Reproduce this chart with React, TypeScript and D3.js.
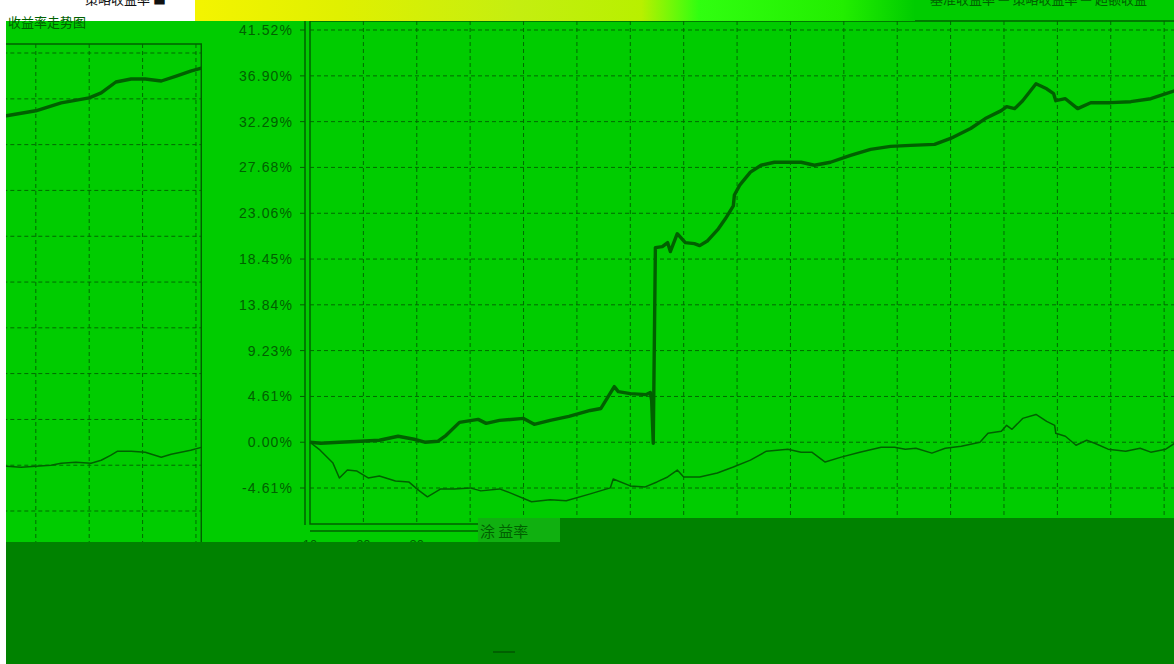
import React from 'react';
import * as d3 from 'd3';

// Strategy cumulative return (%) by trading day
const strategyDays = [0, 4, 11, 19, 26, 33, 39, 43, 48, 51, 56, 63, 66, 71, 80, 84, 90, 97, 105, 109, 114, 115.5, 120, 126, 127.5, 128, 128.6, 129.4, 132, 134, 135, 137.6, 140.6, 144, 146, 149, 153, 155.6, 158.6, 159, 161, 165, 169, 174, 184, 189, 195, 202.5, 210, 217.5, 225, 234, 240, 247.5, 253, 259, 261, 264, 267, 272, 276, 278.6, 279.4, 283, 287.6, 292.5, 300, 307.5, 315, 324, 329, 340, 349.5, 360, 364.5, 370, 375.7, 381, 387, 392.6, 398, 402];
const strategyReturns = [0, -0.1, 0, 0.1, 0.2, 0.6, 0.3, 0, 0.1, 0.7, 2.0, 2.3, 1.9, 2.2, 2.4, 1.8, 2.2, 2.6, 3.2, 3.4, 5.6, 5.1, 4.9, 4.8, 5.0, 4.2, -0.1, 19.6, 19.7, 20.1, 19.2, 21.0, 20.1, 20.0, 19.8, 20.3, 21.5, 22.5, 23.8, 24.9, 25.9, 27.2, 27.9, 28.2, 28.2, 27.9, 28.2, 28.9, 29.5, 29.8, 29.9, 30.0, 30.6, 31.6, 32.6, 33.4, 33.8, 33.6, 34.4, 36.1, 35.6, 35.1, 34.4, 34.6, 33.6, 34.2, 34.2, 34.3, 34.6, 35.4, 35.2, 35.7, 36.5, 37.0, 37.5, 38.6, 38.9, 38.9, 38.7, 39.2, 39.7, 40.0];

// Benchmark cumulative return (%) by trading day
const benchmarkDays = [0, 3.8, 8.6, 11, 14, 17.6, 21.8, 26, 32, 37, 40.5, 44, 49, 54, 60, 64, 71, 75, 83, 90, 96, 105, 112.5, 113.6, 120, 125.6, 130, 134, 137.6, 140, 146, 152.6, 158.6, 165, 171, 179, 184, 188, 193, 199, 206, 214, 219, 223, 227, 233, 238, 244, 251, 254, 259, 261, 263, 267, 272, 276, 279, 279.4, 283, 287, 291, 294, 299, 305.6, 311, 315, 320.6, 324, 329, 334.5, 340, 345.7, 349.5, 355, 360.7, 364.5, 368, 370.5, 375.7, 381, 387, 390.7, 398, 402];
const benchmarkReturns = [0, -0.8, -2.1, -3.6, -2.8, -2.9, -3.6, -3.4, -3.9, -4.0, -4.8, -5.5, -4.7, -4.7, -4.6, -4.9, -4.7, -5.1, -6.0, -5.8, -5.9, -5.2, -4.6, -3.7, -4.4, -4.5, -4.0, -3.5, -2.8, -3.5, -3.5, -3.1, -2.5, -1.8, -0.9, -0.7, -1.0, -1.0, -2.0, -1.5, -1.0, -0.5, -0.5, -0.7, -0.6, -1.1, -0.6, -0.4, 0.0, 0.9, 1.1, 1.7, 1.3, 2.4, 2.8, 2.1, 1.7, 0.9, 0.6, -0.3, 0.2, -0.1, -0.7, -0.9, -0.6, -1.0, -0.7, -0.1, -0.1, -0.2, -0.1, 0, 0.2, 0.3, 0.2, 0.5, 1.0, 1.4, 1.4, 1.3, 0.8, 1.1, 1.5, 1.8];

const yTickValues = [41.52, 36.90, 32.29, 27.68, 23.06, 18.45, 13.84, 9.23, 4.61, 0.00, -4.61];
const yTickLabels = ['41.52%', '36.90%', '32.29%', '27.68%', '23.06%', '18.45%', '13.84%', '9.23%', '4.61%', '0.00%', '-4.61%'];
const xTickDays = [0, 20, 40];
const xTickLabels = ['10', '20', '30'];

const BG = '#00cc00';
const DARK = '#006000';
const GRID = '#006a00';
const BLOCK = '#008200';

const PL = 310, PR = 1383, PT = 21, PB = 524;

export default function App() {
  const x = d3.scaleLinear().domain([0, 402]).range([PL, PR]);
  const y = d3.scaleLinear().domain([-4.61, 41.52]).range([488, 30]);

  const line = d3.line<[number, number]>().x(d => x(d[0])).y(d => y(d[1]));
  const sPts: [number, number][] = strategyDays.map((d, i) => [d, strategyReturns[i]]);
  const bPts: [number, number][] = benchmarkDays.map((d, i) => [d, benchmarkReturns[i]]);

  const vGrid = d3.range(20, 402, 20);

  const plot = (
    <g>
      {yTickValues.map((v, i) => (
        <line key={'h' + i} x1={PL} x2={PR} y1={y(v)} y2={y(v)} stroke={GRID} strokeWidth={1} strokeDasharray="4,3" />
      ))}
      {vGrid.map((d, i) => (
        <line key={'v' + i} x1={x(d)} x2={x(d)} y1={PT} y2={PB} stroke={GRID} strokeWidth={1} strokeDasharray="4,3" />
      ))}
      <rect x={PL} y={PT} width={PR - PL} height={PB - PT} fill="none" stroke={DARK} strokeWidth={1.5} />
      <path d={line(bPts) || ''} fill="none" stroke={DARK} strokeWidth={1.5} strokeLinejoin="round" />
      <path d={line(sPts) || ''} fill="none" stroke={DARK} strokeWidth={3.4} strokeLinejoin="round" />
    </g>
  );

  return (
    <svg width={1174} height={664} style={{ position: 'absolute', left: 0, top: 0, fontFamily: 'Liberation Sans, Arial, sans-serif' }}>
      <defs>
        <clipPath id="mainClip"><rect x={PL - 1} y={PT - 1} width={1174 - PL + 1} height={PB - PT + 3} /></clipPath>
        <clipPath id="leftClip"><rect x={6} y={PT + 22} width={196} height={520} /></clipPath>
        <linearGradient id="glitch" x1="0" x2="1" y1="0" y2="0">
          <stop offset="0" stopColor="#f4f400" />
          <stop offset="0.2" stopColor="#e0f000" />
          <stop offset="0.45" stopColor="#c4ee10" />
          <stop offset="0.62" stopColor="#b8f000" />
          <stop offset="0.7" stopColor="#30ff10" />
          <stop offset="0.9" stopColor="#22ee00" />
          <stop offset="1" stopColor="#00cc00" />
        </linearGradient>
      </defs>
      <rect x={0} y={0} width={1174} height={664} fill="#ffffff" />
      <rect x={6} y={21} width={1168} height={643} fill={BG} />
      <rect x={915} y={0} width={259} height={22} fill={BG} />

      {/* continuation panel on the left */}
      <g clipPath="url(#leftClip)">
        <g transform="translate(-1181.7,23)">{plot}</g>
      </g>
      <text x={8} y={27} fill={DARK} fontSize={13} fontFamily="Noto Sans CJK SC">收益率走势图</text>

      {/* main panel */}
      <g clipPath="url(#mainClip)">{plot}</g>

      {/* y axis */}
      <line x1={305} x2={305} y1={PT} y2={525} stroke={DARK} strokeWidth={1.5} />
      {yTickValues.map((v, i) => (
        <g key={'t' + i}>
          <line x1={300} x2={305} y1={y(v)} y2={y(v)} stroke={DARK} strokeWidth={1} />
          <text x={293} y={y(v)} dy="0.36em" textAnchor="end" fontSize={14} fill={DARK} letterSpacing={1.1}>{yTickLabels[i]}</text>
        </g>
      ))}

      {/* x axis */}
      <line x1={PL} x2={PR} y1={531} y2={531} stroke={DARK} strokeWidth={1.5} />
      {xTickDays.map((d, i) => (
        <text key={'x' + i} x={x(d)} y={549} textAnchor="middle" fontSize={13} fill={DARK}>{xTickLabels[i]}</text>
      ))}

      {/* top strip */}
      <rect x={195} y={0} width={720} height={21} fill="url(#glitch)" />
      <text x={85} y={4} fontSize={13} fill="#111" fontFamily="Noto Sans CJK SC">策略收益率 ■</text>
      <text x={930} y={4} fontSize={13} fill={DARK} fontFamily="Noto Sans CJK SC">基准收益率 — 策略收益率 — 超额收益</text>

      {/* bottom blocks */}
      <rect x={478} y={518} width={696} height={24} fill={BLOCK} />
      <rect x={478} y={518} width={82} height={24} fill="#10b010" />
      <text x={480} y={537} fontSize={15} fill={DARK} fontFamily="Noto Sans CJK SC">涂 益率</text>
      <rect x={6} y={542} width={1168} height={122} fill={BLOCK} />
      <rect x={493} y={651} width={22} height={2} fill={DARK} />
    </svg>
  );
}
